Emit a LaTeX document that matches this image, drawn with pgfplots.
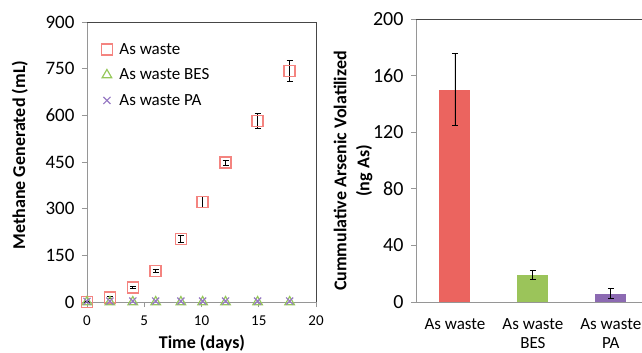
\documentclass[border=0pt]{standalone}
\usepackage{pgfplots}
\pgfplotsset{compat=1.18}
\usepackage{fontspec}
\setmainfont{Carlito}
\definecolor{barred}{RGB}{235,100,95}
\definecolor{bargreen}{RGB}{155,196,90}
\definecolor{barpurple}{RGB}{140,106,178}
\definecolor{mkred}{RGB}{244,132,128}
\definecolor{mkgreen}{RGB}{150,200,90}
\definecolor{mkpurple}{RGB}{150,120,195}
\definecolor{axgrey}{RGB}{150,150,150}
\definecolor{frame}{RGB}{70,70,70}
\begin{document}
\begin{tikzpicture}
\useasboundingbox (0pt,0pt) rectangle (642pt,353pt);
% ---------- left scatter ----------
\begin{axis}[
  at={(87pt,51pt)}, anchor=south west,
  width=229pt, height=280pt, scale only axis,
  xmin=0, xmax=20, ymin=0, ymax=900,
  xtick={0,5,10,15,20}, ytick={0,150,300,450,600,750,900},
  axis lines*=left,
  axis line style={axgrey, line width=0.8pt},
  tick style={axgrey, line width=0.8pt},
  tick align=outside, major tick length=5pt,
  /pgf/number format/assume math mode=true,
  yticklabel style={font=\fontsize{19}{19}\selectfont, xshift=-4pt},
  xticklabel style={font=\fontsize{15}{15}\selectfont, yshift=-5pt},
  xlabel={Time (days)}, ylabel={Methane Generated (mL)},
  xlabel style={font=\fontsize{18}{18}\selectfont\bfseries, at={(axis description cs:0.502,-0.146)}, anchor=center},
  ylabel style={font=\fontsize{18}{18}\selectfont\bfseries, at={(axis description cs:-0.293,0.525)}, anchor=center},
  legend style={at={(0.049,0.939)}, anchor=north west, draw=none, fill=none,
    font=\fontsize{17}{17}\selectfont, row sep=9pt, legend cell align=left},
  clip=false,
]
\addplot+[only marks, mark=square, mark size=5.5pt, mkred, line width=1.6pt,
  mark options={mkred, line width=1.6pt},
  error bars/.cd, y dir=both, y explicit,
  error bar style={black, line width=0.9pt},
  error mark options={rotate=90, mark size=3pt, black, line width=0.9pt}]
  coordinates {
  (0,0) +- (0,1)
  (2,15) +- (0,2)
  (4,46) +- (0,3)
  (6,100) +- (0,6)
  (8.2,203) +- (0,10)
  (10.1,322) +- (0,17)
  (12.1,448) +- (0,8)
  (14.9,582) +- (0,24)
  (17.7,743) +- (0,33)
  };
\addlegendentry{\hspace{5pt}As waste}
\addplot+[only marks, mark=triangle, mark size=5.5pt, mkgreen, line width=1.2pt,
  mark options={mkgreen, line width=1.2pt}]
  coordinates {(0,0) (2,0) (4,0) (6,0) (8.2,0) (10.1,0) (12.1,0) (14.9,0) (17.7,0)};
\addlegendentry{\hspace{5pt}As waste BES}
\addplot+[only marks, mark=x, mark size=5pt, mkpurple, line width=1.2pt,
  mark options={mkpurple, line width=1.2pt}]
  coordinates {(0,2) (2,3) (4,3) (6,3) (8.2,3) (10.1,3) (12.1,3) (14.9,3) (17.7,3)};
\addlegendentry{\hspace{5pt}As waste PA}
\draw[frame, line width=0.9pt] (rel axis cs:0,1) -- (rel axis cs:1,1) -- (rel axis cs:1,0);
\end{axis}
% ---------- right bars ----------
\begin{axis}[
  at={(416pt,51pt)}, anchor=south west,
  width=226pt, height=283pt, scale only axis,
  xmin=-0.5, xmax=2.4, ymin=0, ymax=200,
  ytick={0,40,80,120,160,200},
  xtick={0,1,2},
  xticklabels={As waste,{As waste\\BES},{As waste\\PA}},
  major x tick style={draw=none},
  extra x ticks={0.5,1.5}, extra x tick labels={},
  extra x tick style={tick style={axgrey, line width=0.8pt}},
  axis lines*=left,
  axis line style={axgrey, line width=0.8pt},
  tick style={axgrey, line width=0.8pt},
  tick align=outside, major tick length=5pt,
  /pgf/number format/assume math mode=true,
  yticklabel style={font=\fontsize{20}{20}\selectfont, xshift=-4pt},
  xticklabel style={font=\fontsize{17}{19}\selectfont, align=center, yshift=-8pt},
  ylabel={Cummulative Arsenic Volatilized\\(ng As)},
  ylabel style={font=\fontsize{18}{23}\selectfont\bfseries, align=center,
    at={(axis description cs:-0.279,0.463)}, anchor=center},
  clip=false,
]
\addplot[ybar, bar width=31pt, fill=barred, draw=none, bar shift=0pt,
  error bars/.cd, y dir=both, y explicit,
  error bar style={black, line width=0.9pt},
  error mark options={rotate=90, mark size=3pt, black, line width=0.9pt}]
  coordinates {(0,150) +- (0,25.5)};
\addplot[ybar, bar width=31pt, fill=bargreen, draw=none, bar shift=0pt,
  error bars/.cd, y dir=both, y explicit,
  error bar style={black, line width=0.9pt},
  error mark options={rotate=90, mark size=3pt, black, line width=0.9pt}]
  coordinates {(1,19) +- (0,3)};
\addplot[ybar, bar width=31pt, fill=barpurple, draw=none, bar shift=0pt,
  error bars/.cd, y dir=both, y explicit,
  error bar style={black, line width=0.9pt},
  error mark options={rotate=90, mark size=3pt, black, line width=0.9pt}]
  coordinates {(2,6) +- (0,3.5)};
\draw[frame, line width=0.9pt] (rel axis cs:0,1) -- (rel axis cs:1,1);
\end{axis}
\end{tikzpicture}
\end{document}
